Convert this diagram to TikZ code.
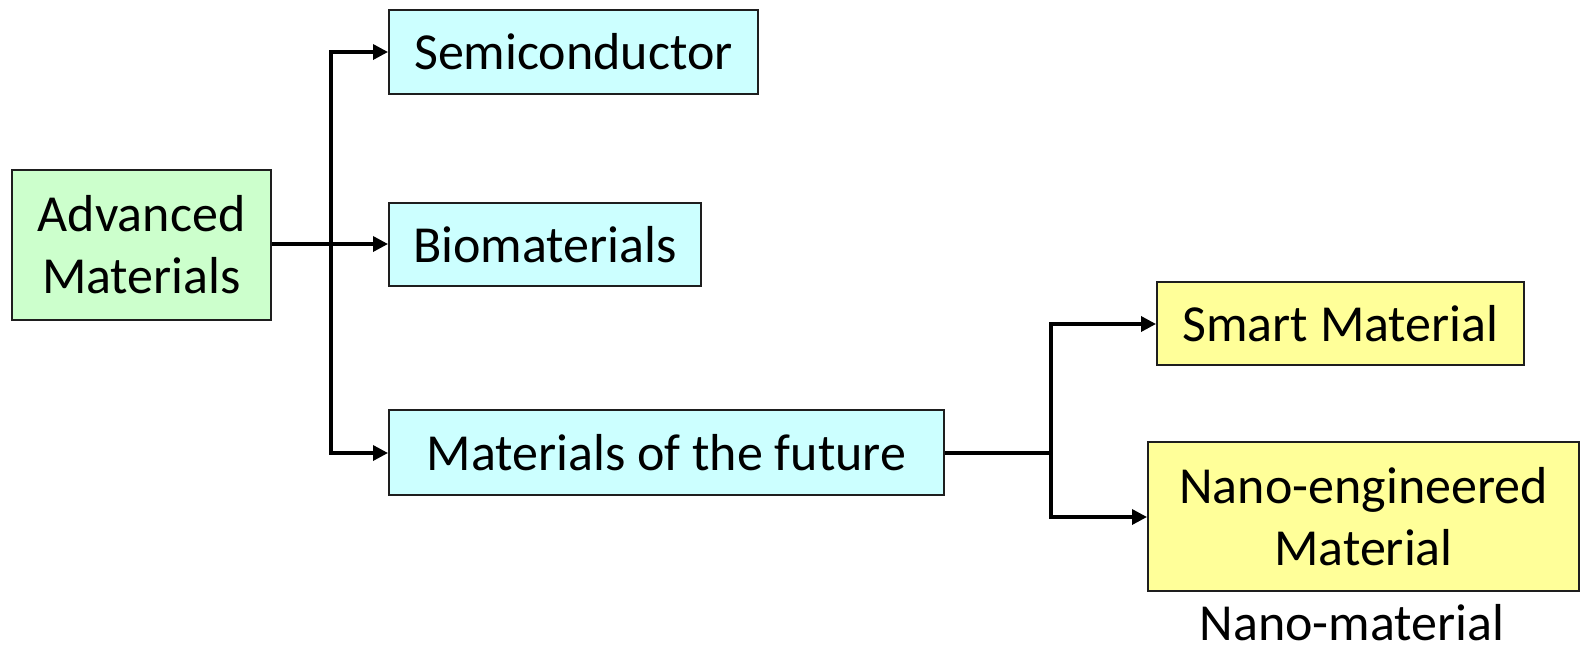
\documentclass[tikz,border=0pt]{standalone}
\usepackage{fontspec}
\setmainfont{Carlito}
\usetikzlibrary{arrows.meta}
\definecolor{boxgreen}{RGB}{204,255,204}
\definecolor{boxcyan}{RGB}{204,255,255}
\definecolor{boxyellow}{RGB}{255,255,153}
\definecolor{edge}{RGB}{30,30,30}
\begin{document}
\begin{tikzpicture}[x=1pt,y=-1pt,
  catbox/.style={draw=edge,line width=2pt,rectangle,inner sep=0pt,align=center,
    font=\fontsize{52}{62}\selectfont},
  link/.style={line width=3.4pt,black,line join=miter},
  arr/.style={link,-{Triangle[length=15pt,width=15pt]}}]
\useasboundingbox (0,0) rectangle (1581,653);

\node[catbox,fill=boxgreen,minimum width=259pt,minimum height=150pt] (adv) at (141.5,245) {Advanced\\Materials};
\node[catbox,fill=boxcyan,minimum width=369pt,minimum height=84pt] (semi) at (573.5,52) {Semiconductor};
\node[catbox,fill=boxcyan,minimum width=312pt,minimum height=83pt] (bio) at (545,244.5) {Biomaterials};
\node[catbox,fill=boxcyan,minimum width=555pt,minimum height=85pt] (fut) at (666.5,452.5) {Materials of the future};
\node[catbox,fill=boxyellow,minimum width=367pt,minimum height=83pt] (smart) at (1340.5,323.5) {Smart Material};
\node[catbox,fill=boxyellow,minimum width=431pt,minimum height=149pt] (nano) at (1363.5,516.5) {Nano-engineered\\Material};
\node[font=\fontsize{52}{62}\selectfont,inner sep=0pt,anchor=base] (nanolbl) at (1352,640) {Nano-material};

% first branching trunk
\coordinate (t1) at (331,244);
\coordinate (t1top) at (331,52);
\coordinate (t1bot) at (331,453);
\draw[link] (adv.east |- t1) -- (t1);
\draw[arr] (t1) -- (t1top) -- (semi.west |- t1top);
\draw[arr] (t1) -- (bio.west |- t1);
\draw[arr] (t1) -- (t1bot) -- (fut.west |- t1bot);

% second branching trunk
\coordinate (t2) at (1051,453);
\coordinate (t2top) at (1051,324);
\coordinate (t2bot) at (1051,517);
\draw[link] (fut.east |- t2) -- (t2);
\draw[arr] (t2) -- (t2top) -- (smart.west |- t2top);
\draw[arr] (t2) -- (t2bot) -- (nano.west |- t2bot);
\end{tikzpicture}
\end{document}
